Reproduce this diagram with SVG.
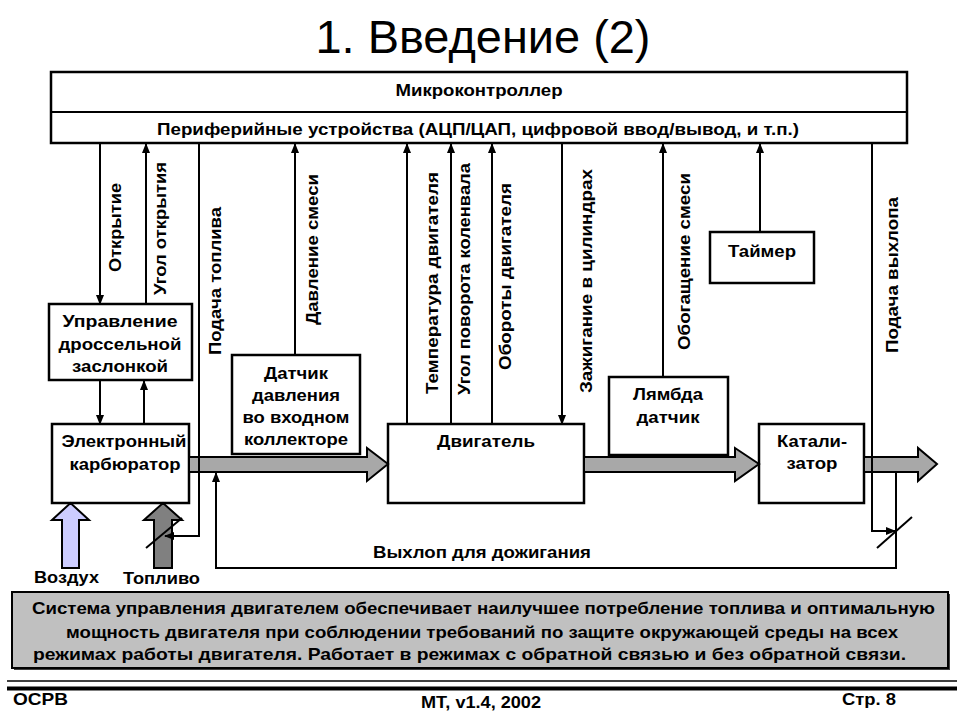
<svg xmlns="http://www.w3.org/2000/svg" width="960" height="720" viewBox="0 0 960 720">
<style>
.box{fill:#fff;stroke:#000;stroke-width:2.5}
.ln{fill:none;stroke:#000;stroke-width:2}
.t{font-family:"Liberation Sans",Arial,sans-serif;font-weight:bold;font-size:16.5px;fill:#000;text-anchor:middle}
.big{fill:#a8a8a8;stroke:#000;stroke-width:2;stroke-linejoin:miter}
.ft{font-family:"Liberation Sans",Arial,sans-serif;font-weight:bold;font-size:16.5px;fill:#000}
</style>
<defs>
<marker id="ah" markerWidth="10" markerHeight="8" refX="9" refY="4" orient="auto" markerUnits="userSpaceOnUse">
<path d="M0,0 L10,4 L0,8 Z" fill="#000"/>
</marker>
</defs>
<rect width="960" height="720" fill="#fff"/>
<text x="483" y="53" font-family="Liberation Sans,Arial,sans-serif" font-size="47" text-anchor="middle" textLength="335" lengthAdjust="spacingAndGlyphs">1. Введение (2)</text>

<g id="mcu">
<rect class="box" x="51" y="72" width="856" height="71"/>
<line class="ln" x1="51" y1="112" x2="907" y2="112" stroke-width="2.5"/>
<text class="t" x="479" y="96" textLength="167" lengthAdjust="spacingAndGlyphs">Микроконтроллер</text>
<text class="t" x="478" y="135" textLength="642" lengthAdjust="spacingAndGlyphs">Периферийные устройства (АЦП/ЦАП, цифровой ввод/вывод, и т.п.)</text>
</g>

<g id="timer">
<rect class="box" x="710" y="232" width="104" height="51"/>
<text class="t" x="762" y="257" textLength="68" lengthAdjust="spacingAndGlyphs">Таймер</text>
</g>

<g id="throttle">
<rect class="box" x="49" y="304" width="143" height="76"/>
<text class="t" x="120" y="327" textLength="115" lengthAdjust="spacingAndGlyphs">Управление</text>
<text class="t" x="120" y="350" textLength="123" lengthAdjust="spacingAndGlyphs">дроссельной</text>
<text class="t" x="120" y="372" textLength="96" lengthAdjust="spacingAndGlyphs">заслонкой</text>
</g>

<g id="carburetor">
<rect class="box" x="52" y="424" width="137" height="79"/>
<text class="t" x="124" y="447" textLength="125" lengthAdjust="spacingAndGlyphs">Электронный</text>
<text class="t" x="125" y="470" textLength="111" lengthAdjust="spacingAndGlyphs">карбюратор</text>
</g>

<g id="pressure">
<rect class="box" x="232" y="355" width="128" height="99"/>
<text class="t" x="296" y="379" textLength="64" lengthAdjust="spacingAndGlyphs">Датчик</text>
<text class="t" x="296" y="401" textLength="88" lengthAdjust="spacingAndGlyphs">давления</text>
<text class="t" x="296" y="423" textLength="107" lengthAdjust="spacingAndGlyphs">во входном</text>
<text class="t" x="296" y="445" textLength="104" lengthAdjust="spacingAndGlyphs">коллекторе</text>
</g>

<g id="engine">
<rect class="box" x="388" y="424" width="196" height="79"/>
<text class="t" x="486" y="447" textLength="98" lengthAdjust="spacingAndGlyphs">Двигатель</text>
</g>

<g id="lambda">
<rect class="box" x="609" y="377" width="119" height="78"/>
<text class="t" x="668" y="400" textLength="70" lengthAdjust="spacingAndGlyphs">Лямбда</text>
<text class="t" x="668" y="423" textLength="63" lengthAdjust="spacingAndGlyphs">датчик</text>
</g>

<g id="catalyst">
<rect class="box" x="759" y="424" width="105" height="79"/>
<text class="t" x="812" y="447" textLength="70" lengthAdjust="spacingAndGlyphs">Катали-</text>
<text class="t" x="812" y="469" textLength="51" lengthAdjust="spacingAndGlyphs">затор</text>
</g>

<g id="flows">
<polygon class="big" points="189,457 367,457 367,448 388,464 367,481 367,472 189,472"/>
<polygon class="big" points="584,457 735,457 735,448 759,464 735,481 735,472 584,472"/>
<polygon class="big" points="864,457 918,457 918,448 937,464 918,481 918,472 864,472"/>
<polygon points="62,568 62,520 52,520 70.5,503 89,520 79,520 79,568" fill="#ccccff" stroke="#000" stroke-width="2"/>
<polygon points="154,568 154,520 144,520 163,503 182,520 172,520 172,568" fill="#808080" stroke="#000" stroke-width="2"/>
</g>

<g id="connectors">
<line class="ln" x1="100" y1="143" x2="100" y2="304" marker-end="url(#ah)"/>
<line class="ln" x1="146" y1="304" x2="146" y2="144" marker-end="url(#ah)"/>
<polyline class="ln" points="199,143 199,536 165,536" marker-end="url(#ah)"/>
<line class="ln" x1="295" y1="355" x2="295" y2="144" marker-end="url(#ah)"/>
<line class="ln" x1="407" y1="424" x2="407" y2="144" marker-end="url(#ah)"/>
<line class="ln" x1="451" y1="424" x2="451" y2="144" marker-end="url(#ah)"/>
<line class="ln" x1="492" y1="424" x2="492" y2="144" marker-end="url(#ah)"/>
<line class="ln" x1="562" y1="143" x2="562" y2="424" marker-end="url(#ah)"/>
<line class="ln" x1="663" y1="377" x2="663" y2="144" marker-end="url(#ah)"/>
<line class="ln" x1="760" y1="232" x2="760" y2="144" marker-end="url(#ah)"/>
<polyline class="ln" points="872,143 872,531 895,531" marker-end="url(#ah)"/>
<line class="ln" x1="100" y1="380" x2="100" y2="424" marker-end="url(#ah)"/>
<line class="ln" x1="144" y1="424" x2="144" y2="381" marker-end="url(#ah)"/>
<polyline class="ln" points="896,472 896,568 216,568 216,473" marker-end="url(#ah)"/>
<line class="ln" x1="146" y1="548" x2="182" y2="518" stroke-width="3"/>
<line class="ln" x1="877" y1="548" x2="912" y2="517" stroke-width="3"/>
</g>

<g id="labels">
<text class="t" transform="translate(121,227.5) rotate(-90)" textLength="89" lengthAdjust="spacingAndGlyphs">Открытие</text>
<text class="t" transform="translate(166,228.5) rotate(-90)" textLength="133" lengthAdjust="spacingAndGlyphs">Угол открытия</text>
<text class="t" transform="translate(221,281) rotate(-90)" textLength="148" lengthAdjust="spacingAndGlyphs">Подача топлива</text>
<text class="t" transform="translate(318,249.5) rotate(-90)" textLength="151" lengthAdjust="spacingAndGlyphs">Давление смеси</text>
<text class="t" transform="translate(438,283) rotate(-90)" textLength="222" lengthAdjust="spacingAndGlyphs">Температура двигателя</text>
<text class="t" transform="translate(470,279) rotate(-90)" textLength="232" lengthAdjust="spacingAndGlyphs">Угол поворота коленвала</text>
<text class="t" transform="translate(511,276.5) rotate(-90)" textLength="187" lengthAdjust="spacingAndGlyphs">Обороты двигателя</text>
<text class="t" transform="translate(592,281) rotate(-90)" textLength="224" lengthAdjust="spacingAndGlyphs">Зажигание в цилиндрах</text>
<text class="t" transform="translate(690,261.5) rotate(-90)" textLength="177" lengthAdjust="spacingAndGlyphs">Обогащение смеси</text>
<text class="t" transform="translate(898,275) rotate(-90)" textLength="156" lengthAdjust="spacingAndGlyphs">Подача выхлопа</text>
<text class="t" x="482" y="558" textLength="218" lengthAdjust="spacingAndGlyphs">Выхлоп для дожигания</text>
<text class="t" x="66.5" y="583" textLength="65" lengthAdjust="spacingAndGlyphs">Воздух</text>
<text class="t" x="161.5" y="584" textLength="77" lengthAdjust="spacingAndGlyphs">Топливо</text>
</g>

<g id="note">
<rect x="14" y="594" width="936" height="76" fill="#404040"/>
<rect x="12" y="592" width="936" height="76" fill="#c0c0c0" stroke="#000" stroke-width="2"/>
<text class="ft" x="483.5" y="614" text-anchor="middle" textLength="903" lengthAdjust="spacingAndGlyphs">Система управления двигателем обеспечивает наилучшее потребление топлива и оптимальную</text>
<text class="ft" x="482" y="637.5" text-anchor="middle" textLength="832" lengthAdjust="spacingAndGlyphs">мощность двигателя при соблюдении требований по защите окружающей среды на всех</text>
<text class="ft" x="469.5" y="660" text-anchor="middle" textLength="873" lengthAdjust="spacingAndGlyphs">режимах работы двигателя.  Работает в режимах с обратной связью и без обратной связи.</text>
</g>

<g id="footer">
<line x1="7" y1="681" x2="957" y2="681" stroke="#000" stroke-width="1.5"/>
<line x1="7" y1="688.5" x2="957" y2="688.5" stroke="#000" stroke-width="4"/>
<text class="ft" x="13" y="705" textLength="55" lengthAdjust="spacingAndGlyphs">ОСРВ</text>
<text class="ft" x="481" y="708" text-anchor="middle" textLength="120" lengthAdjust="spacingAndGlyphs">МТ, v1.4, 2002</text>
<text class="ft" x="842" y="705" textLength="54" lengthAdjust="spacingAndGlyphs">Стр. 8</text>
</g>
</svg>
